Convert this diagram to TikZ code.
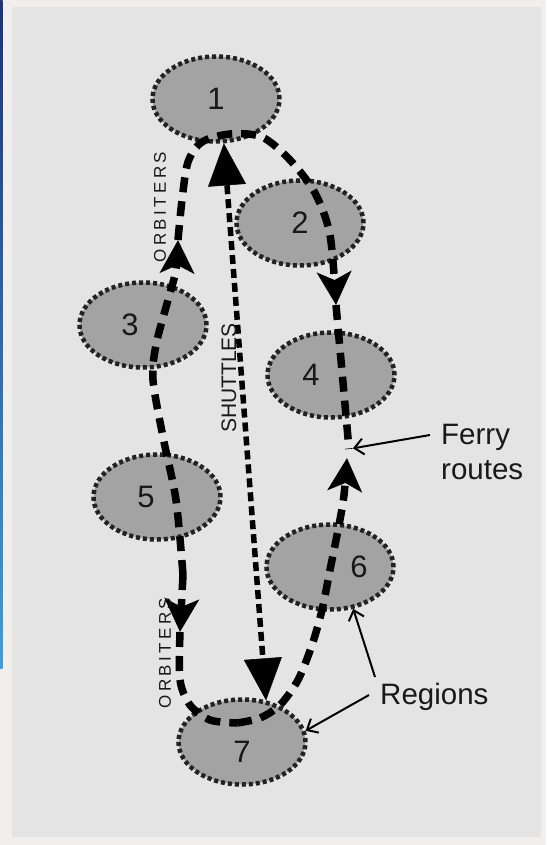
\documentclass[tikz,border=0pt]{standalone}
\usepackage{fontspec}
\setsansfont{Liberation Sans}
\usetikzlibrary{shapes.geometric,arrows.meta}
\definecolor{outerbg}{HTML}{F0EFED}
\definecolor{panelbg}{HTML}{E4E4E4}
\definecolor{regfill}{HTML}{A3A3A3}
\definecolor{regline}{HTML}{222222}
\definecolor{striptop}{HTML}{1E3278}
\definecolor{stripbot}{HTML}{3CA0DC}

\begin{document}
\begin{tikzpicture}[x=1pt,y=-1pt,
  region/.style={ellipse, draw=regline, fill=regfill, line width=4.5pt,
    dash pattern=on 4pt off 3pt, minimum width=127pt, minimum height=85pt, inner sep=0pt},
  num/.style={font=\sffamily\fontsize{31}{31}\selectfont, text=black!90},
  route/.style={line width=7.5pt, dash pattern=on 15pt off 9pt},
  hop/.style={route, -{Stealth[length=33pt,width=34pt,inset=8pt]}},
  shuttle/.style={line width=5.5pt, dash pattern=on 9pt off 5pt,
    {Triangle[length=42pt,width=38pt,line width=0.5pt]}-{Triangle[length=42pt,width=38pt,line width=0.5pt]}},
  pointer/.style={line width=2pt, -{Straight Barb[length=9pt,width=16pt]}},
  lab/.style={font=\sffamily\fontsize{29.5}{35}\selectfont, align=left, inner sep=0pt, text=black!90},
  side/.style={font=\sffamily\fontsize{17}{17}\selectfont\addfontfeature{LetterSpace=20}, rotate=90, inner sep=0pt, text=black!90},
]
\useasboundingbox (0,0) rectangle (546,845);
\fill[outerbg] (0,0) rectangle (546,845);
\fill[panelbg] (12,7) rectangle (541,837);
\shade[top color=striptop, bottom color=stripbot] (0,0) rectangle (2.5,668);

\node[region, label={[num]center:1}] (r1) at (216,99) {};
\node[region, label={[num]center:2}] (r2) at (300,223) {};
\node[region, label={[num,xshift=-13pt]center:3}] (r3) at (143,325) {};
\node[region, label={[num,xshift=-20pt]center:4}] (r4) at (331,375) {};
\node[region, label={[num,xshift=-11pt]center:5}] (r5) at (157,497) {};
\node[region, label={[num,xshift=29pt]center:6}] (r6) at (330,567) {};
\node[region, label={[num,yshift=-10pt]center:7}] (r7) at (242,742) {};

\coordinate (up3) at (178,240);
\coordinate (dn4) at (336,305);
\coordinate (up6) at (347,458);
\coordinate (dn7) at (180,632);
\coordinate (mid5) at (183,575);
\coordinate (low7) at (237,723);
\coordinate (fr) at (349,449);

\draw[hop] plot[smooth] coordinates {(mid5) (176,500) (163,437) (153,380) (156,345) (168,300) (176,270) (up3)};
\draw[hop] plot[smooth] coordinates {(up3) (182,200) (188,162) (202,142) (230,134) (262,137) (290,160) (315,193) (330,235) (dn4)};
\draw[route] (dn4) -- (fr);
\draw[hop] plot[smooth] coordinates {(low7) (260,718) (280,705) (298,680) (312,645) (322,610) (330,570) (339,525) (344,495) (up6)};
\draw[hop] (mid5) -- (dn7);
\draw[route] plot[smooth] coordinates {(dn7) (180,680) (190,705) (210,720) (low7)};

\draw[shuttle] (r1.-80) -- (r7.60);

\node[font=\sffamily\fontsize{21}{21}\selectfont, rotate=90, inner sep=0pt, text=black!90] (shut) at (229,378) {SHUTTLES};
\node[side] (orb1) at (160,207) {ORBITERS};
\node[side] (orb2) at (165,653) {ORBITERS};

\node[lab, anchor=west] (ferry) at (441,452) {Ferry\\routes};
\node[lab, anchor=base west] (regions) at (380,704) {Regions};

\draw[pointer, shorten >=4pt] ([xshift=-11pt,yshift=17pt]ferry.west) -- (fr);
\draw[pointer] ([xshift=-5pt,yshift=27pt]regions.base west) -- (r6.-61);
\draw[pointer] ([xshift=-11pt,yshift=9pt]regions.base west) -- (r7.10);
\end{tikzpicture}
\end{document}
